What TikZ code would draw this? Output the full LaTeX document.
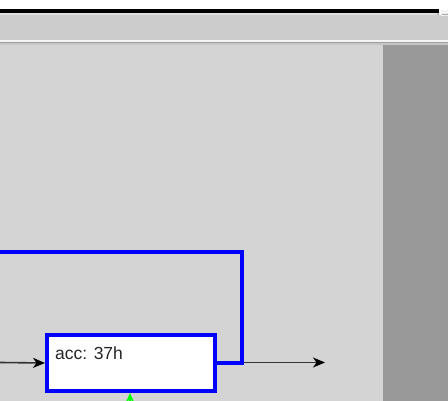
\documentclass[tikz,border=0pt]{standalone}
\usepackage{fontspec}
\setmainfont{Liberation Sans}
\usetikzlibrary{arrows.meta}
\definecolor{canvas}{HTML}{D4D4D4}
\definecolor{panel}{HTML}{CCCCCC}
\definecolor{side}{HTML}{999999}
\definecolor{wireblue}{HTML}{0000FF}
\definecolor{wiregrey}{HTML}{333333}
\definecolor{sig}{HTML}{00FF00}
\tikzset{
  regbox/.style={draw=wireblue, line width=4pt, fill=white, rectangle,
    minimum width=168pt, minimum height=56pt, inner sep=0pt},
  bus/.style={draw=wireblue, line width=4pt},
  wire/.style={draw=wiregrey, line width=1.6pt,
    -{Stealth[length=12pt,width=10pt,inset=3.5pt,black]}},
  sigwire/.style={draw=sig, line width=2pt,
    -{Stealth[length=8pt,width=7pt,inset=1pt,sig]}},
  lbl/.style={font=\fontsize{17.5}{20}\selectfont, text=black!85, inner sep=0pt, anchor=base west}
}
\begin{document}
\begin{tikzpicture}[x=1pt,y=-1pt]
\useasboundingbox (0,0) rectangle (448,401);
% window chrome
\fill[white] (0,0) rectangle (448,401);
\fill[black] (0,9) rectangle (439,13.3);
\fill[gray!25] (0,13.3) rectangle (439,15.5);
\fill[gray!60] (437,13) rectangle (439,16);
\fill[panel] (0,15.5) rectangle (448,40);
\fill[gray!10] (441,10) rectangle (448,16);
\draw[gray!70, line width=1pt] (442,14.5) -- (448,14.5);
\fill[gray!8] (0,40) rectangle (448,41.7);
\fill[gray!75] (0,41.7) rectangle (448,43.3);
\fill[gray!45] (0,43.3) rectangle (448,45);
\fill[canvas] (0,45) rectangle (382.5,401);
\fill[side] (382.5,45) rectangle (448,401);
% diagram
\node[regbox] (acc) at (131,363) {};
\node[lbl] (acclbl) at (55,359.3) {acc: 37h};
\coordinate (inl) at (0,362.5);
\coordinate (loopstart) at (0,252);
\coordinate (corner) at (242,252);
\coordinate (junction) at (242,362.5);
\coordinate (outend) at (325,362.5);
\coordinate (gin) at (130,406);
\draw[wire] (inl) -- (acc.west);
\draw[wire] (junction) -- (outend);
\draw[bus] (loopstart) -- (corner) |- (acc.east);
\draw[sigwire] (gin) -- (gin |- acc.south);
\end{tikzpicture}
\end{document}
